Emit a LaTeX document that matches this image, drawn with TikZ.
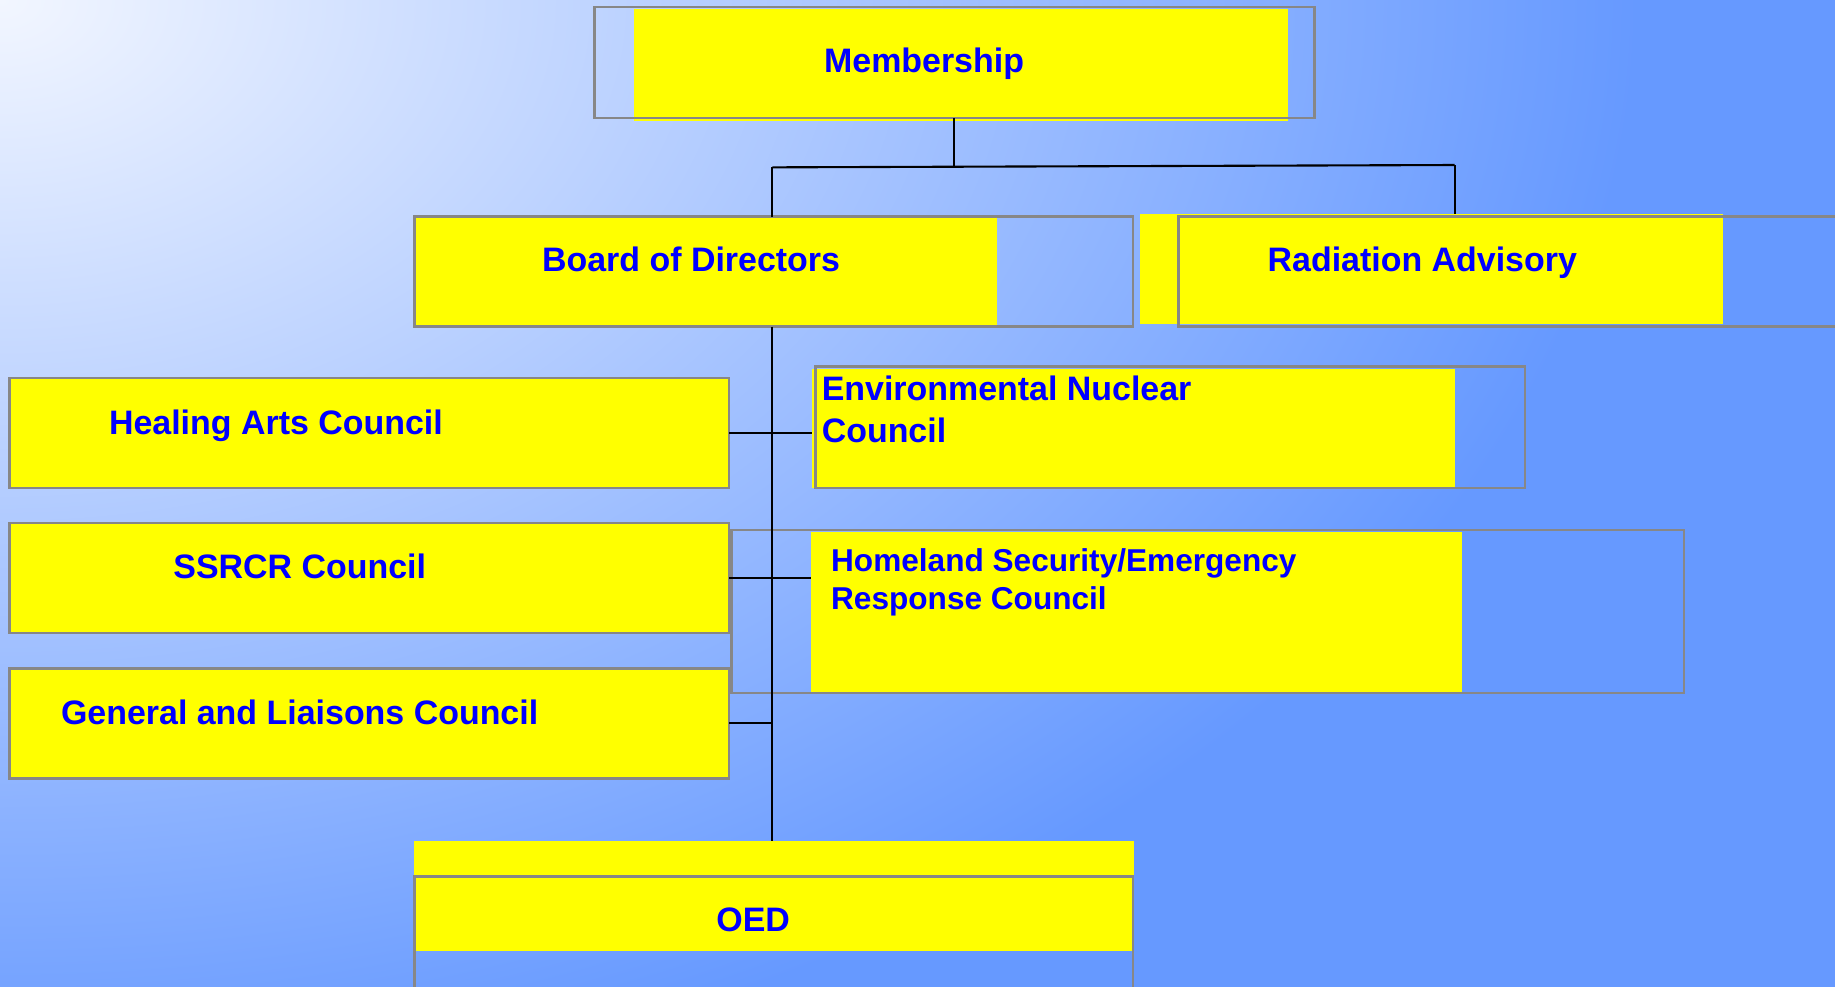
\documentclass[tikz,border=0pt]{standalone}
\usepackage{fontspec}
\setmainfont{Liberation Sans}
\usetikzlibrary{fit}
\definecolor{bgA}{HTML}{F2F6FF}
\definecolor{bgB}{HTML}{6699FF}
\definecolor{yel}{HTML}{FFFF00}
\definecolor{edge}{HTML}{878787}
\definecolor{txt}{HTML}{0000FF}
\begin{document}
\begin{tikzpicture}[x=1bp,y=-1bp,
  yfill/.style={fill=yel,draw=none,inner sep=0pt,outer sep=0pt},
  outl/.style={draw=edge,line width=2.2bp,inner sep=0pt,outer sep=0pt},
  conn/.style={draw=black,line width=1.8bp},
  lbl/.style={text=txt,inner sep=0pt,font=\fontsize{29bp}{36bp}\selectfont\bfseries},
  lbls/.style={text=txt,inner sep=0pt,font=\fontsize{27bp}{33bp}\selectfont\bfseries}]
\useasboundingbox (0,0) rectangle (1568,843);
\begin{scope}
\clip (0,0) rectangle (1568,843);
\fill[bgB] (0,0) rectangle (1568,843);
\shade[inner color=bgA,outer color=bgB] (0,0) ellipse[x radius=1400bp,y radius=950bp];
\end{scope}
% yellow fills
\node[yfill,fit={(542,8) (1101,103)}] (membY) {};
\node[yfill,fit={(354,185) (852,279)}] (boardY) {};
\node[yfill,fit={(974,183) (1472,277)}] (radY) {};
\node[yfill,fit={(8,323) (623,417)}] (healY) {};
\node[yfill,fit={(694,315) (1243,417)}] (envY) {};
\node[yfill,fit={(8,447) (623,541)}] (ssrcrY) {};
\node[yfill,fit={(693,455) (1249,592)}] (homeY) {};
\node[yfill,fit={(8,571) (623,665)}] (genY) {};
\node[yfill,fit={(354,719) (969,748)}] (oedtop) {};
\node[yfill,fit={(354,749) (968,813)}] (oedY) {};
% outlines
\node[outl,fit={(508,6) (1123,101)}] (memb) {};
\node[outl,fit={(354,185) (968,279)}] (board) {};
\node[outl,fit={(1007,185) (1600,279)}] (rad) {};
\node[outl,fit={(8,323) (623,417)}] (heal) {};
\node[outl,fit={(697,313) (1303,417)}] (env) {};
\node[outl,fit={(8,447) (623,541)}] (ssrcr) {};
\node[outl,fit={(625,453) (1439,592)}] (home) {};
\node[outl,fit={(8,571) (623,665)}] (gen) {};
\node[outl,fit={(354,749) (968,880)}] (oed) {};
% connectors
\coordinate (jM) at (815,142);
\coordinate (jL) at (660,143);
\coordinate (jR) at (1243,141);
\draw[conn] (memb.south -| jM) -- (jM);
\draw[conn] (jL) -- (jR);
\draw[conn] (jL) -- (jL |- board.north);
\draw[conn] (jR) -- (jR |- radY.north);
\draw[conn] (jL |- board.south) -- (jL |- oedtop.north);
\draw[conn] (heal.east) -- (heal.east -| envY.west);
\draw[conn] (ssrcr.east) -- (ssrcr.east -| homeY.west);
\draw[conn] (gen.east) -- (gen.east -| jL);
% labels
\node[lbl,anchor=base west] (tMemb) at (704,62) {Membership};
\node[lbl,anchor=base west] (tBoard) at (463,232) {Board of Directors};
\node[lbl,anchor=base west] (tRad) at (1083,232) {Radiation Advisory};
\node[lbl,anchor=base west] (tHeal) at (93,371) {Healing Arts Council};
\node[lbl,anchor=base west,align=left] (tEnv) at (702,378) {Environmental Nuclear\\Council};
\node[lbl,anchor=base west] (tSsrcr) at (148,494) {SSRCR Council};
\node[lbls,anchor=base west,align=left] (tHome) at (710,521) {Homeland Security/Emergency\\Response Council};
\node[lbl,anchor=base west] (tGen) at (52,619) {General and Liaisons Council};
\node[lbl,anchor=base west] (tOed) at (612,796) {OED};
\end{tikzpicture}
\end{document}
